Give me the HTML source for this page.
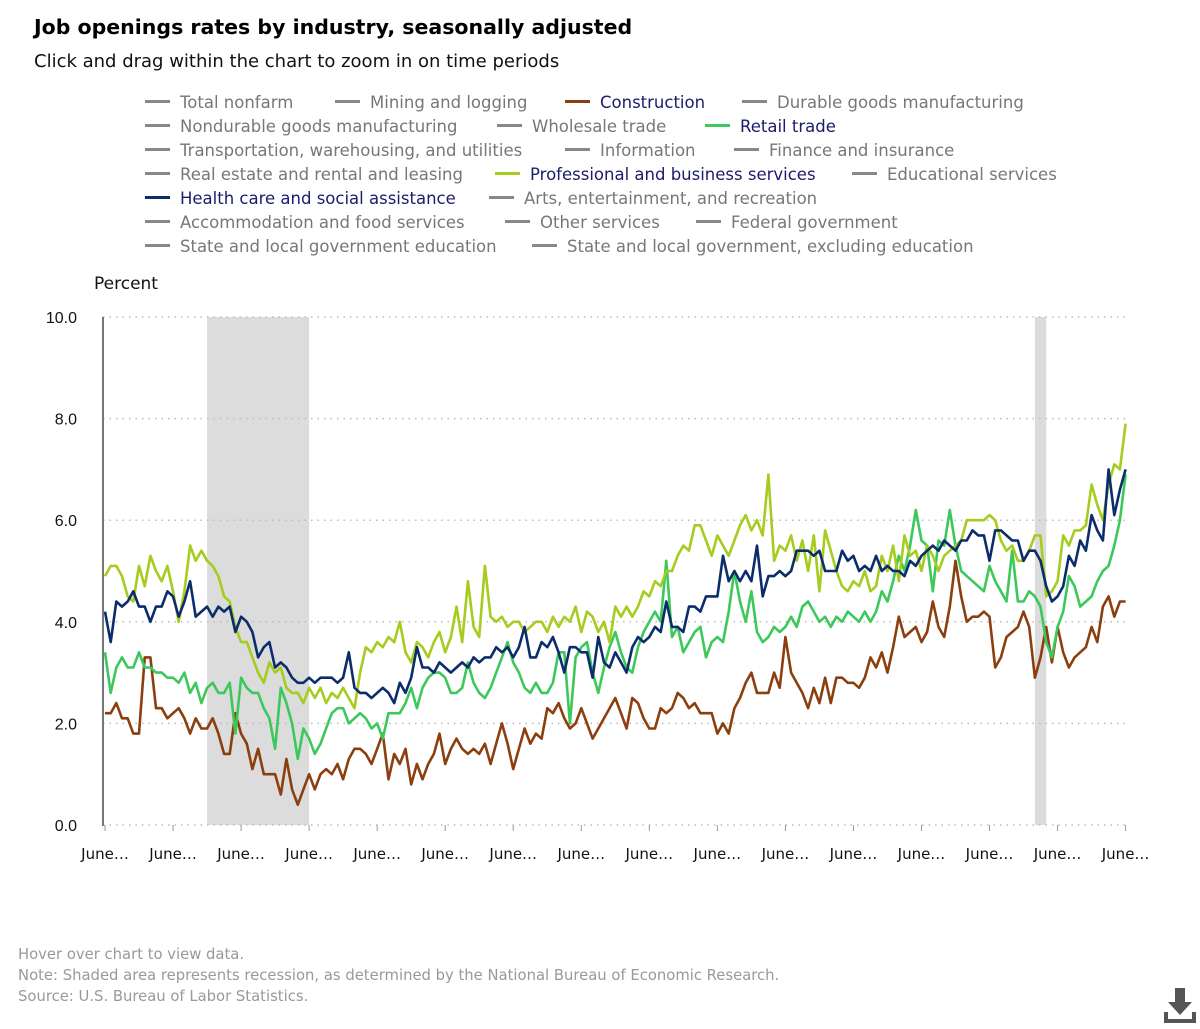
<!DOCTYPE html>
<html><head><meta charset="utf-8">
<style>
body{margin:0;width:1200px;height:1029px;background:#fff;font-family:"DejaVu Sans","Liberation Sans",sans-serif;position:relative;overflow:hidden}
.t{position:absolute;white-space:nowrap}
.li{position:absolute;height:20px;font-size:16.5px;color:#777;white-space:nowrap}
.li i{display:inline-block;width:25px;height:3px;background:#888;vertical-align:middle;margin-right:10px;position:relative;top:-2px}
.li.on{color:#1b1b6b}
</style></head><body>
<div class="t" style="left:34px;top:15px;font-size:20.5px;font-weight:bold;color:#000">Job openings rates by industry, seasonally adjusted</div>
<div class="t" style="left:34px;top:51px;font-size:18px;color:#111">Click and drag within the chart to zoom in on time periods</div>
<div id="legend"></div>
<div class="t" style="left:94px;top:274px;font-size:17px;color:#111">Percent</div>
<svg id="chart" width="1200" height="900" style="position:absolute;left:0;top:0"></svg>
<div class="t" style="left:18px;top:946px;font-size:14.8px;color:#999">Hover over chart to view data.</div>
<div class="t" style="left:18px;top:967px;font-size:14.8px;color:#999">Note: Shaded area represents recession, as determined by the National Bureau of Economic Research.</div>
<div class="t" style="left:18px;top:988px;font-size:14.8px;color:#999">Source: U.S. Bureau of Labor Statistics.</div>
<svg width="34" height="38" style="position:absolute;left:1163px;top:988px">
<path d="M12 0h10v14h7L17 27 5 14h7z" fill="#555"/><path d="M1 24v11h32V24h-4v7H5v-7z" fill="#555"/></svg>
<script>
const legendItems=[
["Total nonfarm",145,101,0],["Mining and logging",335,101,0],["Construction",565,101,1],["Durable goods manufacturing",742,101,0],
["Nondurable goods manufacturing",145,125,0],["Wholesale trade",497,125,0],["Retail trade",705,125,1],
["Transportation, warehousing, and utilities",145,149,0],["Information",565,149,0],["Finance and insurance",734,149,0],
["Real estate and rental and leasing",145,173,0],["Professional and business services",495,173,1],["Educational services",852,173,0],
["Health care and social assistance",145,197,1],["Arts, entertainment, and recreation",489,197,0],
["Accommodation and food services",145,221,0],["Other services",505,221,0],["Federal government",696,221,0],
["State and local government education",145,245,0],["State and local government, excluding education",532,245,0]];
const legendColors={"Construction":"#8b3f0f","Retail trade":"#3cc85a","Professional and business services":"#a5cc1e","Health care and social assistance":"#0c2d6b"};
const lg=document.getElementById('legend');
legendItems.forEach(it=>{const d=document.createElement('div');d.className='li'+(it[3]?' on':'');d.style.left=it[1]+'px';d.style.top=(it[2]-8)+'px';


d.innerHTML='<i style="background:'+(legendColors[it[0]]||'#888')+'"></i>'+it[0];lg.appendChild(d);});

const xTickLabels=["June…","June…","June…","June…","June…","June…","June…","June…","June…","June…","June…","June…","June…","June…","June…","June…"];
const yTicks=[0,2,4,6,8,10];
const recessions=[[18,36],[164,166]];
const construction=[2.2,2.2,2.4,2.1,2.1,1.8,1.8,3.3,3.3,2.3,2.3,2.1,
2.2,2.3,2.1,1.8,2.1,1.9,1.9,2.1,1.8,1.4,1.4,2.2,
1.8,1.6,1.1,1.5,1.0,1.0,1.0,0.6,1.3,0.7,0.4,0.7,
1.0,0.7,1.0,1.1,1.0,1.2,0.9,1.3,1.5,1.5,1.4,1.2,
1.5,1.8,0.9,1.4,1.2,1.5,0.8,1.2,0.9,1.2,1.4,1.8,
1.2,1.5,1.7,1.5,1.4,1.5,1.4,1.6,1.2,1.6,2.0,1.6,
1.1,1.5,1.9,1.6,1.8,1.7,2.3,2.2,2.4,2.1,1.9,2.0,
2.3,2.0,1.7,1.9,2.1,2.3,2.5,2.2,1.9,2.5,2.4,2.1,
1.9,1.9,2.3,2.2,2.3,2.6,2.5,2.3,2.4,2.2,2.2,2.2,
1.8,2.0,1.8,2.3,2.5,2.8,3.0,2.6,2.6,2.6,3.0,2.7,
3.7,3.0,2.8,2.6,2.3,2.7,2.4,2.9,2.4,2.9,2.9,2.8,
2.8,2.7,2.9,3.3,3.1,3.4,3.0,3.5,4.1,3.7,3.8,3.9,
3.6,3.8,4.4,3.9,3.7,4.3,5.2,4.5,4.0,4.1,4.1,4.2,
4.1,3.1,3.3,3.7,3.8,3.9,4.2,3.9,2.9,3.3,3.9,3.2,
3.9,3.4,3.1,3.3,3.4,3.5,3.9,3.6,4.3,4.5,4.1,4.4,4.4];
const professional=[4.9,5.1,5.1,4.9,4.5,4.4,5.1,4.7,5.3,5.0,4.8,5.1,
4.6,4.0,4.6,5.5,5.2,5.4,5.2,5.1,4.9,4.5,4.4,3.9,
3.6,3.6,3.3,3.0,2.8,3.2,3.0,3.1,2.7,2.6,2.6,2.4,
2.7,2.5,2.7,2.4,2.6,2.5,2.7,2.5,2.3,3.0,3.5,3.4,
3.6,3.5,3.7,3.6,4.0,3.4,3.2,3.6,3.5,3.3,3.6,3.8,
3.4,3.7,4.3,3.6,4.8,3.9,3.7,5.1,4.1,4.0,4.1,3.9,
4.0,4.0,3.8,3.9,4.0,4.0,3.8,4.1,3.9,4.1,4.0,4.3,
3.8,4.2,4.1,3.8,4.0,3.6,4.3,4.1,4.3,4.1,4.3,4.6,
4.5,4.8,4.7,5.0,5.0,5.3,5.5,5.4,5.9,5.9,5.6,5.3,
5.7,5.5,5.3,5.6,5.9,6.1,5.8,6.0,5.7,6.9,5.2,5.5,
5.4,5.7,5.2,5.6,5.0,5.7,4.6,5.8,5.4,5.0,4.7,4.6,
4.8,4.7,5.0,4.6,4.7,5.3,5.0,5.5,4.8,5.7,5.3,5.4,
5.0,5.5,5.3,5.0,5.3,5.4,5.5,5.6,6.0,6.0,6.0,6.0,
6.1,6.0,5.6,5.4,5.5,5.2,5.2,5.4,5.7,5.7,4.5,4.6,
4.8,5.7,5.5,5.8,5.8,5.9,6.7,6.3,6.0,6.7,7.1,7.0,7.9];
const retail=[3.4,2.6,3.1,3.3,3.1,3.1,3.4,3.1,3.1,3.0,3.0,2.9,
2.9,2.8,3.0,2.6,2.8,2.4,2.7,2.8,2.6,2.6,2.8,1.8,
2.9,2.7,2.6,2.6,2.3,2.1,1.5,2.7,2.4,2.0,1.3,1.9,
1.7,1.4,1.6,1.9,2.2,2.3,2.3,2.0,2.1,2.2,2.1,1.9,
2.0,1.7,2.2,2.2,2.2,2.4,2.7,2.3,2.7,2.9,3.0,3.0,
2.9,2.6,2.6,2.7,3.2,2.8,2.6,2.5,2.7,3.0,3.3,3.6,
3.2,3.0,2.7,2.6,2.8,2.6,2.6,2.8,3.4,3.4,2.0,3.3,
3.5,3.6,3.0,2.6,3.1,3.5,3.8,3.4,3.1,3.0,3.5,3.8,
4.0,4.2,4.0,5.2,3.7,3.9,3.4,3.6,3.8,3.9,3.3,3.6,
3.7,3.6,4.2,5.0,4.4,4.0,4.6,3.8,3.6,3.7,3.9,3.8,
3.9,4.1,3.9,4.3,4.4,4.2,4.0,4.1,3.9,4.1,4.0,4.2,
4.1,4.0,4.2,4.0,4.2,4.6,4.4,4.8,5.3,5.0,5.5,6.2,
5.6,5.5,4.6,5.6,5.5,6.2,5.5,5.0,4.9,4.8,4.7,4.6,
5.1,4.8,4.6,4.4,5.4,4.4,4.4,4.6,4.5,4.3,3.6,3.3,
3.9,4.2,4.9,4.7,4.3,4.4,4.5,4.8,5.0,5.1,5.5,6.0,6.9];
const health=[4.2,3.6,4.4,4.3,4.4,4.6,4.3,4.3,4.0,4.3,4.3,4.6,
4.5,4.1,4.4,4.8,4.1,4.2,4.3,4.1,4.3,4.2,4.3,3.8,
4.1,4.0,3.8,3.3,3.5,3.6,3.1,3.2,3.1,2.9,2.8,2.8,
2.9,2.8,2.9,2.9,2.9,2.8,2.9,3.4,2.7,2.6,2.6,2.5,
2.6,2.7,2.6,2.4,2.8,2.6,2.9,3.5,3.1,3.1,3.0,3.2,
3.1,3.0,3.1,3.2,3.1,3.3,3.2,3.3,3.3,3.5,3.4,3.5,
3.3,3.5,3.9,3.3,3.3,3.6,3.5,3.7,3.4,3.0,3.5,3.5,
3.4,3.4,2.9,3.7,3.2,3.1,3.4,3.2,3.0,3.5,3.7,3.6,
3.7,3.9,3.8,4.4,3.9,3.9,3.8,4.3,4.3,4.2,4.5,4.5,
4.5,5.3,4.8,5.0,4.8,5.0,4.8,5.5,4.5,4.9,4.9,5.0,
4.9,5.0,5.4,5.4,5.4,5.3,5.4,5.0,5.0,5.0,5.4,5.2,
5.3,5.0,5.1,5.0,5.3,5.0,5.1,5.0,5.0,4.9,5.2,5.1,
5.3,5.4,5.5,5.4,5.6,5.5,5.4,5.6,5.6,5.8,5.7,5.7,
5.2,5.8,5.8,5.7,5.6,5.6,5.2,5.4,5.4,5.2,4.7,4.4,
4.5,4.7,5.3,5.1,5.6,5.4,6.1,5.8,5.6,7.0,6.1,6.6,7.0];

const NS='http://www.w3.org/2000/svg';
const svg=document.getElementById('chart');
const x0=105,monthW=5.67,yZero=825,yTop=317;
const xS=i=>x0+i*monthW;
const yS=v=>yZero-(v/10)*(yZero-yTop);
function el(t,a){const e=document.createElementNS(NS,t);for(const k in a)e.setAttribute(k,a[k]);svg.appendChild(e);return e;}
recessions.forEach(r=>{const e=el('rect',{x:xS(r[0]),y:yTop,width:xS(r[1])-xS(r[0]),height:yZero-yTop,fill:'#dcdcdc'});

});
yTicks.forEach(v=>{const g=el('line',{x1:103,x2:1130,y1:yS(v),y2:yS(v),stroke:'#bbb','stroke-dasharray':'1.5,5','stroke-width':1.5});


const t=el('text',{x:77,y:yS(v)+6,'text-anchor':'end','font-size':16,fill:'#111','font-family':'Liberation Sans'});t.textContent=v.toFixed(1);

});
const ax=el('line',{x1:103,x2:103,y1:yTop,y2:yZero+1,stroke:'#777','stroke-width':2});


xTickLabels.forEach((l,i)=>{const x=xS(i*12);
const tk=el('line',{x1:x,x2:x,y1:yZero,y2:yZero+6,stroke:'#999'});


const t=el('text',{x:x,y:859,'text-anchor':'middle','font-size':15,fill:'#111','font-family':'DejaVu Sans'});t.textContent=l;

});
function series(arr,color,name){const d=arr.map((v,i)=>(i?'L':'M')+xS(i).toFixed(1)+' '+yS(v).toFixed(1)).join('');
const p=el('path',{d:d,fill:'none',stroke:color,'stroke-width':2.6,'stroke-linejoin':'round'});

}
series(construction,'#8b3f0f','construction-line');
series(retail,'#3cc85a','retail-trade-line');
series(professional,'#a5cc1e','professional-services-line');
series(health,'#0c2d6b','health-care-line');
</script>
</body></html>
